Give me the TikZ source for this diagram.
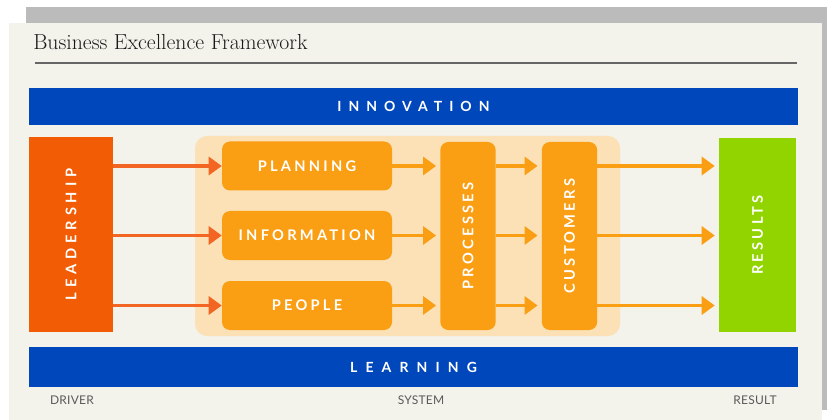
\documentclass[tikz,border=0pt]{standalone}
\usepackage{fontspec}
\usetikzlibrary{arrows.meta}
\newfontfamily\latoW[LetterSpace=50]{Lato}
\newfontfamily\latoLe[LetterSpace=58]{Lato}
\newfontfamily\latoM[LetterSpace=22]{Lato}
\newfontfamily\latoL[LetterSpace=33]{Lato}
\newfontfamily\latoB[LetterSpace=2]{Lato}
\definecolor{panel}{HTML}{F3F2EB}
\definecolor{frame}{HTML}{BBBBBB}
\definecolor{bblue}{HTML}{0047BB}
\definecolor{lead}{HTML}{F25C05}
\definecolor{box}{HTML}{FA9E14}
\definecolor{sysbg}{HTML}{FBE1B5}
\definecolor{res}{HTML}{92D400}
\definecolor{leadarr}{HTML}{F26522}
\definecolor{lbl}{HTML}{5A5A5A}
\tikzset{
  bar/.style={fill=bblue, draw=none, minimum width=576.75pt, text=white, font=\latoW\bfseries\fontsize{10.5pt}{12pt}\selectfont},
  obox/.style={fill=box, draw=none, rounded corners=6pt, text=white, font=\latoM\bfseries\fontsize{11pt}{12pt}\selectfont},
  hbox/.style={obox, minimum width=127.5pt, minimum height=36.75pt},
  vbox/.style={obox, minimum width=41.5pt, minimum height=141pt},
  vtext/.style={rotate=90, text=white, font=\latoM\bfseries\fontsize{11pt}{12pt}\selectfont},
  larr/.style={draw=leadarr, line width=2.4pt, -{Triangle[length=9.75pt, width=13.5pt]}},
  oarr/.style={draw=box, line width=2.4pt, -{Triangle[length=9.75pt, width=13.5pt]}},
  foot/.style={text=lbl, font=\latoB\fontsize{9pt}{10pt}\selectfont},
}
\begin{document}
\begin{tikzpicture}[x=0.75pt, y=-0.75pt]
\useasboundingbox (0,0) rectangle (827,420);
\fill[white] (0,0) rectangle (827,420);
\fill[frame] (26,7) rectangle (827,410);
\fill[panel] (9,23) rectangle (822,420);
% title
\node[anchor=base west, inner sep=0pt, text=black!90, font=\fontsize{16.3pt}{19pt}\selectfont] (title) at (33,50) {Business Excellence Framework};
\draw[black!60, line width=0.9pt] (35,63) coordinate (tl) -- (797,63) coordinate (tr);
% bars
\node[bar, minimum height=27.75pt] (innov) at (413.5,106.5) {INNOVATION};
\node[bar, minimum height=30pt, font=\latoLe\bfseries\fontsize{10.5pt}{12pt}\selectfont] (learn) at (413.5,367) {LEARNING};
% leadership
\node[fill=lead, minimum width=63pt, minimum height=146.25pt, inner sep=0pt] (lead) at (71,234.5) {};
\node[vtext, font=\latoL\bfseries\fontsize{11pt}{12pt}\selectfont] (leadt) at (lead.center) {LEADERSHIP};
% system background
\node[fill=sysbg, rounded corners=9pt, minimum width=318.75pt, minimum height=150pt] (sys) at (407.5,236) {};
% boxes
\node[hbox] (plan) at (307,166) {PLANNING};
\node[hbox] (info) at (307,235.5) {INFORMATION};
\node[hbox] (peop) at (307,305.5) {PEOPLE};
\node[vbox] (proc) at (468,236) {};
\node[vtext] (proct) at (proc.center) {PROCESSES};
\node[vbox] (cust) at (569.5,236) {};
\node[vtext] (custt) at (cust.center) {CUSTOMERS};
% results
\node[fill=res, minimum width=57.75pt, minimum height=145.5pt, inner sep=0pt] (res) at (757.5,235) {};
\node[vtext] (rest) at (res.center) {RESULTS};
% arrows from leadership
\draw[larr] (lead.east |- plan.west) -- (plan.west);
\draw[larr] (lead.east |- info.west) -- (info.west);
\draw[larr] (lead.east |- peop.west) -- (peop.west);
% arrows to processes
\draw[oarr, shorten >=3pt] (plan.east) -- (proc.west |- plan.east);
\draw[oarr, shorten >=3pt] (info.east) -- (proc.west |- info.east);
\draw[oarr, shorten >=3pt] (peop.east) -- (proc.west |- peop.east);
% processes to customers
\draw[oarr, shorten >=3pt] (proc.east |- plan.east) -- (cust.west |- plan.east);
\draw[oarr, shorten >=3pt] (proc.east |- info.east) -- (cust.west |- info.east);
\draw[oarr, shorten >=3pt] (proc.east |- peop.east) -- (cust.west |- peop.east);
% customers to results
\draw[oarr, shorten >=3pt] (cust.east |- plan.east) -- (res.west |- plan.east);
\draw[oarr, shorten >=3pt] (cust.east |- info.east) -- (res.west |- info.east);
\draw[oarr, shorten >=3pt] (cust.east |- peop.east) -- (res.west |- peop.east);
% footer labels
\node[foot] (drv) at (72,400) {DRIVER};
\node[foot] (systxt) at (421,400) {SYSTEM};
\node[foot] (rsl) at (755,400) {RESULT};
\end{tikzpicture}
\end{document}
